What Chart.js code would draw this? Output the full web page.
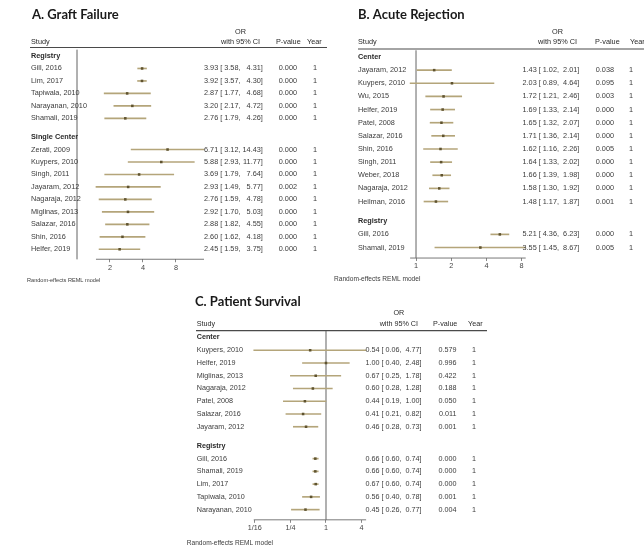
<!DOCTYPE html>
<html><head><meta charset="utf-8">
<script src="https://cdn.jsdelivr.net/npm/chart.js@4.4.1/dist/chart.umd.min.js"></script>
<style>
html,body{margin:0;padding:0;background:#fff;}
#wrap{position:relative;width:644px;height:548px;overflow:hidden;background:#fff;}
#wrap canvas{position:absolute;left:0;top:0;}
</style></head><body>
<div id="wrap">
<canvas id="cA" width="644" height="548"></canvas>
<canvas id="cB" width="644" height="548"></canvas>
<canvas id="cC" width="644" height="548"></canvas>
</div>
<script>
// ---------------- DATA ----------------
// Panel A: Graft Failure
const graftTitle = 'A. Graft Failure';
const graftStudies = ['Gill, 2016','Lim, 2017','Tapiwala, 2010','Narayanan, 2010','Shamali, 2019',
  'Zerati, 2009','Kuypers, 2010','Singh, 2011','Jayaram, 2012','Nagaraja, 2012','Miglinas, 2013','Salazar, 2016','Shin, 2016','Helfer, 2019'];
const graftGroups = ['Registry','Registry','Registry','Registry','Registry',
  'Single Center','Single Center','Single Center','Single Center','Single Center','Single Center','Single Center','Single Center','Single Center'];
const graftOR = [3.93,3.92,2.87,3.20,2.76,6.71,5.88,3.69,2.93,2.76,2.92,2.88,2.60,2.45];
const graftLo = [3.58,3.57,1.77,2.17,1.79,3.12,2.93,1.79,1.49,1.59,1.70,1.82,1.62,1.59];
const graftHi = [4.31,4.30,4.68,4.72,4.26,14.43,11.77,7.64,5.77,4.78,5.03,4.55,4.18,3.75];
const graftP = ['0.000','0.000','0.000','0.000','0.000','0.000','0.000','0.000','0.002','0.000','0.000','0.000','0.000','0.000'];
const graftYear = ['1','1','1','1','1','1','1','1','1','1','1','1','1','1'];
const graftTicks = [2,4,8];
const graftTickLabels = ['2','4','8'];

// Panel B: Acute Rejection
const rejTitle = 'B. Acute Rejection';
const rejStudies = ['Jayaram, 2012','Kuypers, 2010','Wu, 2015','Helfer, 2019','Patel, 2008','Salazar, 2016','Shin, 2016',
  'Singh, 2011','Weber, 2018','Nagaraja, 2012','Heilman, 2016','Gill, 2016','Shamali, 2019'];
const rejGroups = ['Center','Center','Center','Center','Center','Center','Center','Center','Center','Center','Center','Registry','Registry'];
const rejOR = [1.43,2.03,1.72,1.69,1.65,1.71,1.62,1.64,1.66,1.58,1.48,5.21,3.55];
const rejLo = [1.02,0.89,1.21,1.33,1.32,1.36,1.16,1.33,1.39,1.30,1.17,4.36,1.45];
const rejHi = [2.01,4.64,2.46,2.14,2.07,2.14,2.26,2.02,1.98,1.92,1.87,6.23,8.67];
const rejP = ['0.038','0.095','0.003','0.000','0.000','0.000','0.005','0.000','0.000','0.000','0.001','0.000','0.005'];
const rejYear = ['1','1','1','1','1','1','1','1','1','1','1','1','1'];
const rejTicks = [1,2,4,8];
const rejTickLabels = ['1','2','4','8'];

// Panel C: Patient Survival
const survTitle = 'C. Patient Survival';
const survStudies = ['Kuypers, 2010','Helfer, 2019','Miglinas, 2013','Nagaraja, 2012','Patel, 2008','Salazar, 2016','Jayaram, 2012',
  'Gill, 2016','Shamali, 2019','Lim, 2017','Tapiwala, 2010','Narayanan, 2010'];
const survGroups = ['Center','Center','Center','Center','Center','Center','Center','Registry','Registry','Registry','Registry','Registry'];
const survOR = [0.54,1.00,0.67,0.60,0.44,0.41,0.46,0.66,0.66,0.67,0.56,0.45];
const survLo = [0.06,0.40,0.25,0.28,0.19,0.21,0.28,0.60,0.60,0.60,0.40,0.26];
const survHi = [4.77,2.48,1.78,1.28,1.00,0.82,0.73,0.74,0.74,0.74,0.78,0.77];
const survP = ['0.579','0.996','0.422','0.188','0.050','0.011','0.001','0.000','0.000','0.000','0.001','0.004'];
const survYear = ['1','1','1','1','1','1','1','1','1','1','1','1'];
const survTicks = [0.0625,0.25,1,4];
const survTickLabels = ['1/16','1/4','1','4'];

const footnote = 'Random-effects REML model';

// ---------------- STYLE / LAYOUT ----------------
const FONT = '"Liberation Sans", Arial, sans-serif';
const TFONT = 'Lato, "Open Sans", sans-serif';
const CI_COL = '#b4a57a';
const MK_COL = '#5f532f';
const REF_COL = '#9c9c9c';
const TXT = '#3c3c3c';
const HEAD_TXT = '#2a2a2a';
const AXIS_COL = '#6a6a6a';
const W = 644, H = 548, AXH = 20;

const layoutA = {xL:77, xR:204, y0:56, pitch:12.47, gap:0.5, tail:0.8, fs:7.3, titleX:32, titleY:15, titleFs:13,
  nameX:31, colL:204, pR:297, yearX:315,
  orY:31.5, hdrY:42, ciHdrR:260, pHdrL:276, yearHdrL:307, lineY:47.5, lineL:30, lineR:327,
  noteX:27, noteY:280, noteFs:5.6};
const layoutB = {xL:410.1, xR:525.7, y0:57, pitch:13.14, gap:0.5, tail:0.8, fs:7.3, titleX:358, titleY:15, titleFs:13,
  nameX:358, colL:522.5, pR:614, yearX:631,
  orY:31.5, hdrY:42, ciHdrR:577, pHdrL:595, yearHdrL:630, lineY:49, lineL:358, lineR:644,
  noteX:334, noteY:279.5, noteFs:6.6};
const layoutC = {xL:253.75, xR:366.1, y0:337.5, pitch:12.75, gap:0.5, tail:0.8, fs:7.2, titleX:195, titleY:301.5, titleFs:13,
  nameX:196.7, colL:365.5, pR:456.5, yearX:474,
  orY:313, hdrY:324.3, ciHdrR:418, pHdrL:433, yearHdrL:468, lineY:330.7, lineL:196, lineR:487,
  noteX:186.7, noteY:543, noteFs:6.6};

function makePanel(id, D, L){
  const rows = []; let pos = 0, prev = null;
  D.studies.forEach((s,i)=>{
    if (D.groups[i] !== prev){ if (prev !== null) pos += L.gap; rows.push({head:true,label:D.groups[i],pos}); pos += 1; prev = D.groups[i]; }
    rows.push({head:false,i,pos}); pos += 1;
  });
  const last = pos - 1;
  const yMin = -0.5, yMax = last + L.tail;
  const xMin = Math.min(1, ...D.lo), xMax = Math.max(1, ...D.hi);
  const studyRows = rows.filter(r=>!r.head);
  const top = L.y0 + yMin*L.pitch, bottom = L.y0 + yMax*L.pitch;

  const textPlugin = {
    id:'forestText',
    afterDraw(chart){
      const ctx = chart.ctx, ys = chart.scales.y, xs = chart.scales.x, ca = chart.chartArea;
      ctx.save();
      ctx.textBaseline = 'middle';
      // x axis line over the data range
      ctx.strokeStyle = AXIS_COL; ctx.lineWidth = 0.9;
      ctx.beginPath();
      ctx.moveTo(xs.getPixelForValue(Math.min(...D.lo)), ca.bottom);
      ctx.lineTo(xs.getPixelForValue(Math.max(...D.hi)), ca.bottom);
      ctx.stroke();
      // title
      ctx.fillStyle = '#1a1a1a';
      ctx.font = '700 '+L.titleFs+'px '+TFONT; ctx.textAlign='left';
      ctx.fillText(D.title, L.titleX, L.titleY);
      // headers
      ctx.fillStyle = HEAD_TXT;
      ctx.font = L.fs+'px '+FONT;
      ctx.textAlign='left'; ctx.fillText('Study', L.nameX, L.hdrY);
      ctx.textAlign='right'; ctx.fillText('with 95% CI', L.ciHdrR, L.hdrY);
      const ciw = ctx.measureText('with 95% CI').width;
      ctx.textAlign='center'; ctx.fillText('OR', L.ciHdrR - ciw/2, L.orY);
      ctx.textAlign='left'; ctx.fillText('P-value', L.pHdrL, L.hdrY);
      ctx.fillText('Year', L.yearHdrL, L.hdrY);
      ctx.strokeStyle = '#4a4a4a'; ctx.lineWidth = 1.2;
      ctx.beginPath(); ctx.moveTo(L.lineL, L.lineY); ctx.lineTo(L.lineR, L.lineY); ctx.stroke();
      // OR column geometry (Stata-like padded fields)
      const w = s => ctx.measureText(s).width;
      const hiSlot = Math.max(...D.hi.map(v=>w(v.toFixed(2).padStart(5,' '))));
      const estR = L.colL + w('0.00');
      const brL = estR + w(' ');
      const loR = brL + w('[ ') + w('0.00');
      const hiR = loR + w(', ') + hiSlot;
      // rows
      rows.forEach(r=>{
        const y = ys.getPixelForValue(r.pos);
        if (r.head){
          ctx.font = '700 '+L.fs+'px '+FONT; ctx.fillStyle = HEAD_TXT; ctx.textAlign='left';
          ctx.fillText(r.label, L.nameX, y);
          return;
        }
        const i = r.i;
        ctx.font = L.fs+'px '+FONT; ctx.fillStyle = TXT;
        ctx.textAlign='left'; ctx.fillText(D.studies[i], L.nameX, y);
        ctx.textAlign='right'; ctx.fillText(D.or[i].toFixed(2), estR, y);
        ctx.textAlign='left'; ctx.fillText('[', brL, y);
        ctx.textAlign='right'; ctx.fillText(D.lo[i].toFixed(2), loR, y);
        ctx.textAlign='left'; ctx.fillText(',', loR, y);
        ctx.textAlign='right'; ctx.fillText(D.hi[i].toFixed(2), hiR, y);
        ctx.textAlign='left'; ctx.fillText(']', hiR, y);
        ctx.textAlign='right'; ctx.fillText(D.p[i], L.pR, y);
        ctx.textAlign='center'; ctx.fillText(D.year[i], L.yearX, y);
      });
      // footnote
      ctx.font = L.noteFs+'px '+FONT; ctx.fillStyle = TXT; ctx.textAlign='left';
      ctx.fillText(footnote, L.noteX, L.noteY);
      ctx.restore();
    }
  };

  return new Chart(document.getElementById(id), {
    type:'scatter',
    data:{datasets:[
      {type:'line', data:[{x:1,y:yMin},{x:1,y:yMax}], borderColor:REF_COL, borderWidth:0.8, pointRadius:0, clip:false, order:3},
      {type:'bar', indexAxis:'y', data: studyRows.map(r=>({x:[D.lo[r.i], D.hi[r.i]], y:r.pos})),
        backgroundColor:CI_COL, borderWidth:0, barThickness:1, clip:false, order:2},
      {type:'scatter', data: studyRows.map(r=>({x:D.or[r.i], y:r.pos})), pointStyle:'rect', pointRadius:1.8,
        backgroundColor:MK_COL, borderWidth:0, clip:false, order:1}
    ]},
    options:{
      responsive:false, animation:false, devicePixelRatio:1,
      layout:{padding:{left:L.xL, right:W-L.xR, top:top, bottom:H-bottom-AXH}},
      plugins:{legend:{display:false}, tooltip:{enabled:false}, title:{display:false}},
      scales:{
        x:{type:'logarithmic', min:xMin, max:xMax, offset:false,
          afterFit(s){ s.height = AXH; },
          afterBuildTicks(s){ s.ticks = D.ticks.map(v=>({value:v})); },
          ticks:{autoSkip:false, maxRotation:0, minRotation:0, padding:1, color:'#444',
            font:{family:FONT, size:L.fs}, callback:(v,i)=>D.tickLabels[i]},
          grid:{drawOnChartArea:false, drawTicks:true, tickLength:3, color:AXIS_COL, lineWidth:0.8},
          border:{display:false}},
        y:{type:'linear', reverse:true, min:yMin, max:yMax, display:false, offset:false}
      }
    },
    plugins:[textPlugin]
  });
}

makePanel('cA', {title:graftTitle, studies:graftStudies, groups:graftGroups, or:graftOR, lo:graftLo, hi:graftHi, p:graftP, year:graftYear, ticks:graftTicks, tickLabels:graftTickLabels}, layoutA);
makePanel('cB', {title:rejTitle, studies:rejStudies, groups:rejGroups, or:rejOR, lo:rejLo, hi:rejHi, p:rejP, year:rejYear, ticks:rejTicks, tickLabels:rejTickLabels}, layoutB);
makePanel('cC', {title:survTitle, studies:survStudies, groups:survGroups, or:survOR, lo:survLo, hi:survHi, p:survP, year:survYear, ticks:survTicks, tickLabels:survTickLabels}, layoutC);
</script>
</body></html>
